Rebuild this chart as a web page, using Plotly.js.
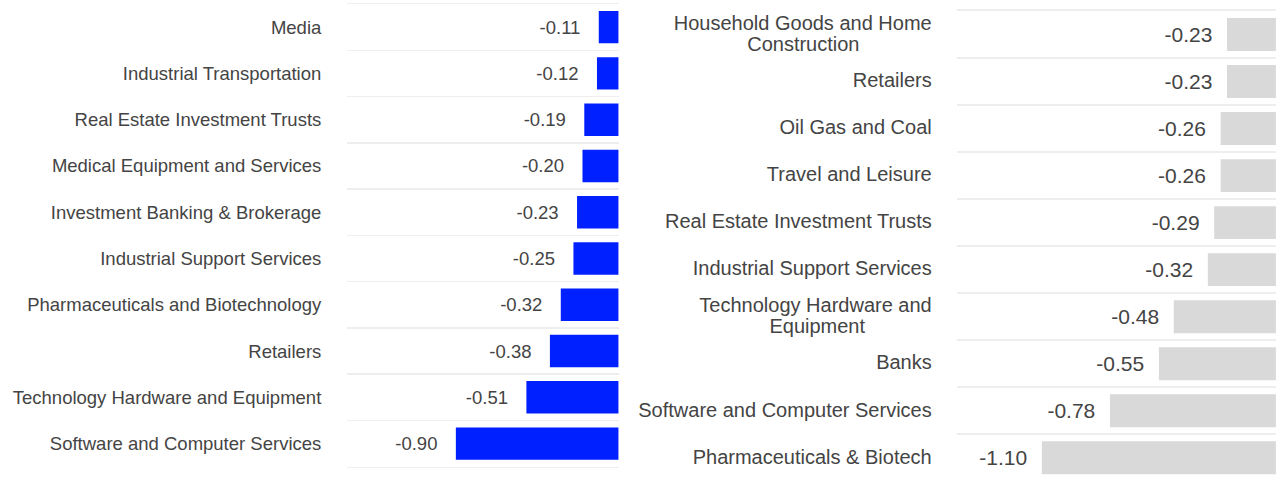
<!DOCTYPE html>
<html>
<head>
<meta charset="utf-8">
<script src="https://cdn.plot.ly/plotly-3.0.1.min.js"></script>
<style>
html,body{margin:0;padding:0;overflow:hidden;background:#fff;}
#chart{width:1283px;height:482px;}
</style>
</head>
<body>
<div id="chart"></div>
<script>
// Left chart data (top to bottom)
const leftCategories = ["Media","Industrial Transportation","Real Estate Investment Trusts","Medical Equipment and Services","Investment Banking & Brokerage","Industrial Support Services","Pharmaceuticals and Biotechnology","Retailers","Technology Hardware and Equipment","Software and Computer Services"];
const leftValues = [-0.11,-0.12,-0.19,-0.20,-0.23,-0.25,-0.32,-0.38,-0.51,-0.90];

// Right chart data (top to bottom)
const rightCategories = ["Household Goods and Home Construction","Retailers","Oil Gas and Coal","Travel and Leisure","Real Estate Investment Trusts","Industrial Support Services","Technology Hardware and Equipment","Banks","Software and Computer Services","Pharmaceuticals & Biotech"];
const rightValues = [-0.23,-0.23,-0.26,-0.26,-0.29,-0.32,-0.48,-0.55,-0.78,-1.10];
const NB = "\u00A0";
const rightTickLabels = ["Household Goods and Home<br>Construction" + NB.repeat(13),"Retailers","Oil Gas and Coal","Travel and Leisure","Real Estate Investment Trusts","Industrial Support Services","Technology Hardware and<br>Equipment" + NB.repeat(12),"Banks","Software and Computer Services","Pharmaceuticals & Biotech"];

const FONT = "Liberation Sans, Arial, sans-serif";
const TXT = "#444444";
const GRID = "#eeeeee";

const traces = [
  {
    type: "bar", orientation: "h",
    x: leftValues, y: leftCategories,
    xaxis: "x", yaxis: "y",
    marker: {color: "rgb(0,32,255)"},
    text: leftValues.map(v => v.toFixed(2) + NB.repeat(3)),
    textposition: "outside",
    constraintext: "none",
    cliponaxis: false,
    textfont: {family: FONT, size: 18.5, color: TXT},
    hoverinfo: "none"
  },
  {
    type: "bar", orientation: "h",
    x: rightValues, y: rightCategories,
    xaxis: "x2", yaxis: "y2",
    marker: {color: "#d9d9d9"},
    text: rightValues.map(v => v.toFixed(2) + NB.repeat(2)),
    textposition: "outside",
    constraintext: "none",
    cliponaxis: false,
    textfont: {family: FONT, size: 21, color: TXT},
    hoverinfo: "none"
  }
];

const layout = {
  width: 1283, height: 482,
  margin: {l: 0, r: 0, t: 0, b: 0},
  paper_bgcolor: "#fff", plot_bgcolor: "#fff",
  showlegend: false,
  bargap: 0.3,
  font: {family: FONT, color: TXT},
  xaxis: {domain: [0.2707, 0.4822], range: [-1.5, 0], showgrid: false, zeroline: false, showticklabels: false, ticks: "",
          showline: true, mirror: true, linecolor: GRID, linewidth: 1.5},
  yaxis: {domain: [0.0317, 0.9917], anchor: "x", type: "category", autorange: "reversed",
          tickson: "boundaries", showgrid: true, gridcolor: GRID, gridwidth: 1.5,
          ticks: "", ticklabelstandoff: 25, tickfont: {family: FONT, size: 18.5, color: TXT}, zeroline: false},
  xaxis2: {domain: [0.7457, 0.9945], range: [-1.5, 0], anchor: "y2", showgrid: false, zeroline: false, showticklabels: false, ticks: "",
           showline: true, mirror: true, linecolor: GRID, linewidth: 1.5},
  yaxis2: {domain: [0.0015, 0.9772], anchor: "x2", type: "category", autorange: "reversed",
           tickson: "boundaries", showgrid: true, gridcolor: GRID, gridwidth: 1.5,
           tickvals: rightCategories, ticktext: rightTickLabels.map(t => '<span style="font-size:20px">' + t.split("<br>").join('</span><br><span style="font-size:20px">') + '</span>'),
           ticks: "", ticklabelstandoff: 24, tickfont: {family: FONT, size: 16.5, color: TXT}, zeroline: false}
};

Plotly.newPlot("chart", traces, layout, {displayModeBar: false, staticPlot: true});
</script>
</body>
</html>
